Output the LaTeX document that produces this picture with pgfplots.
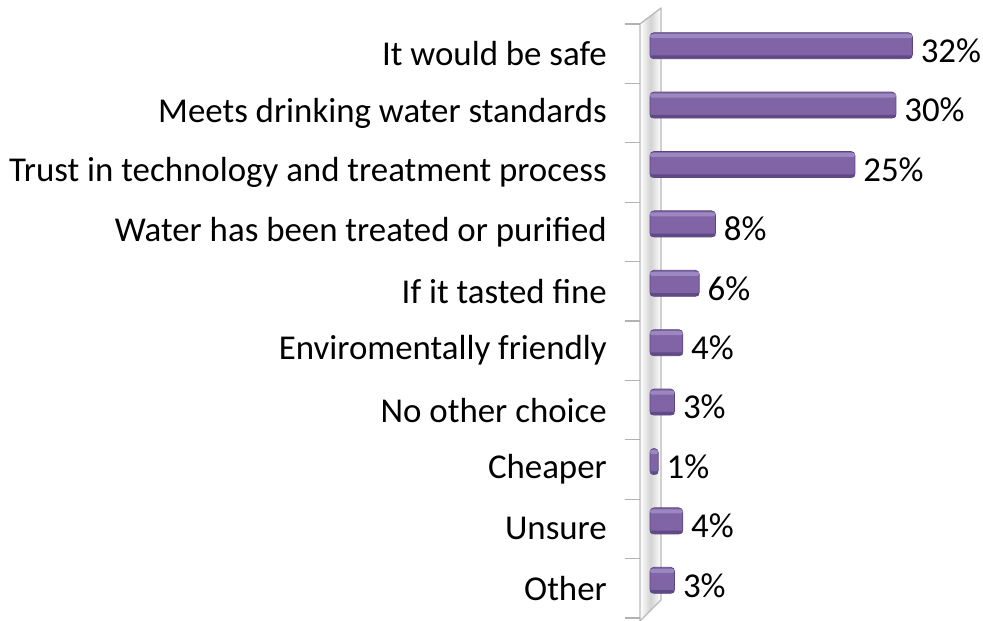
\documentclass[border=0pt]{standalone}
\usepackage{pgfplots}
\usepackage{pgfplotstable}
\pgfplotsset{compat=1.18}
\usepackage{fontspec}
\setmainfont{Carlito}
\definecolor{barmid}{HTML}{8064A6}
\definecolor{bartop}{HTML}{9C88C0}
\definecolor{barbot}{HTML}{5A4580}
\pgfplotstableread{
y val
0 3
1 4
2 1
3 3
4 4
5 6
6 8
7 25
8 30
9 32
}\datatable
\begin{document}
\begin{tikzpicture}
\useasboundingbox (0,0) rectangle (983bp,621bp);
% 3D wall
\shade[left color=white, right color=white, middle color=gray!35] (640bp,0bp) -- (640bp,597bp) -- (661bp,613bp) -- (661bp,21bp) -- cycle;
\draw[gray!55, line width=1.3bp, line join=round] (640bp,0bp) -- (640bp,597bp) -- (661bp,613bp) -- (661bp,21bp) -- cycle;
\begin{axis}[
  at={(640bp,3bp)}, anchor=south west,
  scale only axis, width=300bp, height=594bp,
  xmin=-1.22, xmax=35.37, ymin=-0.5, ymax=9.5,
  axis x line=none, axis y line*=left, y axis line style={draw=none},
  ytick={0,...,9},
  yticklabels={Other, Unsure, Cheaper, No other choice, Enviromentally friendly\ , If it tasted fine\ , Water has been treated or purified, Trust in technology and treatment process, Meets drinking water standards, It would be safe},
  major tick length=0pt,
  minor ytick={-0.5,0.5,...,9.5},
  minor tick length=15bp,
  tick align=outside,
  minor tick style={gray!60, line width=1.2bp},
  yticklabel style={anchor=east, inner sep=0pt, xshift=-33bp, font=\fontsize{35}{40}\selectfont},
  /pgf/number format/assume math mode=true,
  clip=false,
]
\addplot[xbar, bar width=26bp, bar shift=8bp, draw=barbot, line width=0.8bp, fill=barmid, rounded corners=4bp,
  nodes near coords={\pgfmathprintnumber{\pgfplotspointmeta}\%},
  nodes near coords style={anchor=west, inner sep=0pt, xshift=8bp, yshift=3bp, text=black, font=\fontsize{35}{40}\selectfont}]
  table[x=val, y=y] {\datatable};
\addplot[xbar, bar width=4bp, bar shift=17.5bp, draw=none, fill=bartop, rounded corners=2bp]
  table[x=val, y=y] {\datatable};
\addplot[xbar, bar width=3bp, bar shift=-3.3bp, draw=none, fill=barbot!85!barmid, rounded corners=1.5bp]
  table[x=val, y=y] {\datatable};
\end{axis}
\end{tikzpicture}
\end{document}
